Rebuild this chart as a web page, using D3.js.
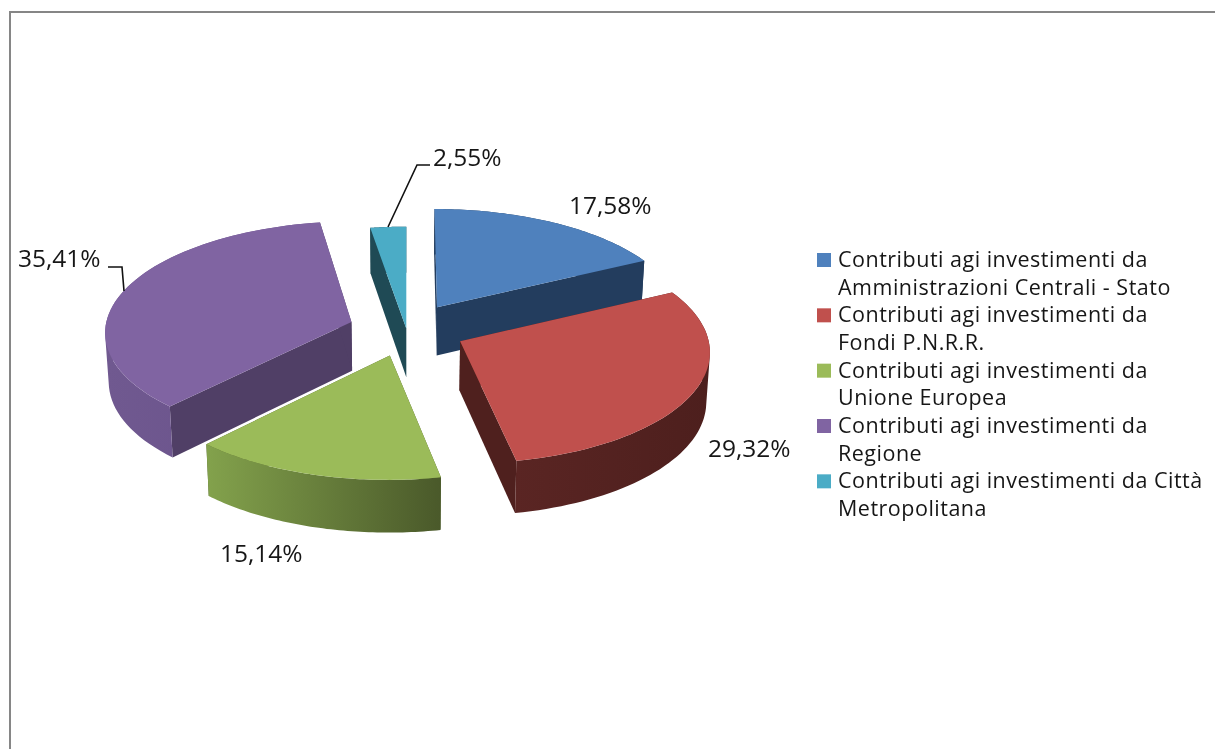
<!DOCTYPE html>
<html>
<head>
<meta charset="utf-8">
<script src="https://cdn.jsdelivr.net/npm/d3@7"></script>
<style>
html,body{margin:0;padding:0;background:#fff;overflow:hidden}
text{font-family:"Open Sans",sans-serif;fill:#161616}
.soft{filter:blur(0.4px)}
</style>
</head>
<body>
<svg id="chart" width="1215" height="749"></svg>
<script>
// Data
const categories = [
  ["Contributi agi investimenti da", "Amministrazioni Centrali - Stato"],
  ["Contributi agi investimenti da", "Fondi P.N.R.R."],
  ["Contributi agi investimenti da", "Unione Europea"],
  ["Contributi agi investimenti da", "Regione"],
  ["Contributi agi investimenti da Città", "Metropolitana"]
];
const shares = [17.58, 29.32, 15.14, 35.41, 2.55];
const explode = [0.24, 0.24, 0.24, 0.235, 0.01];
const topColors = ["#4F81BD", "#C0504D", "#9BBB59", "#8064A2", "#4BACC6"];
const wallColors = ["#233D5E", "#4F201E", "#4D5C2C", "#503F66", "#1F4A55"];
const rimStart = ["#233D5E", "#5A2523", "#83A24C", "#705990", "#1F4A55"];
const rimEnd = ["#233D5E", "#4D1F1D", "#4A592A", "#68508A", "#1F4A55"];
const drawOrder = [4, 0, 3, 1, 2];
const labelPos = [[569, 214], [708, 457], [220, 562], [18, 267], [433, 166]];
const leaders = {3: [[124, 291], [122, 267], [108, 267]], 4: [[388, 227], [417, 165], [430, 165]]};

// Projection of the tilted pie
const P = {cx: 406.5, cy: 329.5, rx: 246.5, ry: 111, k: 0.082};
const xScale = d3.scaleLinear().domain([0, 1]).range([P.cx, P.cx + P.rx]);
const yScale = d3.scaleLinear().domain([0, 1]).range([P.cy, P.cy + P.ry]);
function project(X, Y, low) {
  const w = 1 + P.k * Y;
  let x = xScale(X * w), y = yScale(Y * w);
  if (low) {
    x = P.cx + (x - P.cx) * 0.988;
    y += 49 + 3 * Y;
  }
  return [x, y];
}
const line = d3.line();
const svg = d3.select("#chart");
const fmt = d3.formatLocale({decimal: ",", thousands: ".", grouping: [3], currency: ["", "€"]}).format(".2f");

// Frame
svg.append("path").attr("d", line([[10, 749], [10, 12], [1215, 12]]))
  .attr("fill", "none").attr("stroke", "#868686").attr("stroke-width", 2);

// Slices
const arcs = d3.pie().sort(null).value(d => d)(shares);
const defs = svg.append("defs");
shares.forEach((s, i) => {
  const g = defs.append("linearGradient").attr("id", "rim" + i);
  g.append("stop").attr("offset", "0").attr("stop-color", rimStart[i]);
  g.append("stop").attr("offset", "1").attr("stop-color", rimEnd[i]);
});

drawOrder.forEach(i => {
  const a = arcs[i];
  const mid = (a.startAngle + a.endAngle) / 2;
  const ox = explode[i] * Math.sin(mid), oy = -explode[i] * Math.cos(mid);
  const angles = d3.range(0, 61).map(t => a.startAngle + (a.endAngle - a.startAngle) * t / 60);
  const rimPt = (ang, low) => project(ox + Math.sin(ang), oy - Math.cos(ang), low);
  const rimTop = angles.map(v => rimPt(v, false));
  const rimLow = angles.map(v => rimPt(v, true));
  const apexTop = project(ox, oy, false), apexLow = project(ox, oy, true);
  const g = svg.append("g").attr("class", "soft");
  // radial walls
  [[rimTop[0], rimLow[0]], [rimTop[60], rimLow[60]]].forEach(([t, l]) => {
    g.append("path").attr("d", line([apexTop, t, l, apexLow]) + "Z").attr("fill", wallColors[i]);
  });
  // outer rim wall: one same-winding quad per step, so the silhouette is the full sweep
  const rimPath = d3.range(0, 60).map(t => {
    const quad = [rimTop[t], rimTop[t + 1], rimLow[t + 1], rimLow[t]];
    if (d3.polygonArea(quad) < 0) quad.reverse();
    return line(quad) + "Z";
  }).join("");
  g.append("path").attr("d", rimPath).attr("fill", `url(#rim${i})`);
  // top face
  g.append("path").attr("d", line([apexTop].concat(rimTop)) + "Z").attr("fill", topColors[i]);
});

// Leader lines
Object.values(leaders).forEach(pts => {
  svg.append("path").attr("d", line(pts)).attr("fill", "none")
    .attr("stroke", "#111").attr("stroke-width", 1.6);
});

// Data labels
svg.selectAll("text.val").data(shares).join("text").attr("class", "val soft")
  .attr("x", (d, i) => labelPos[i][0]).attr("y", (d, i) => labelPos[i][1])
  .attr("font-size", 24.5).text(d => fmt(d) + "%");

// Legend
const legendRow = d3.scaleLinear().domain([0, 9]).range([267, 516]);
categories.forEach((lines, i) => {
  svg.append("rect").attr("x", 817).attr("y", legendRow(i * 2) - 14)
    .attr("width", 14).attr("height", 14).attr("fill", topColors[i]);
  lines.forEach((t, j) => {
    svg.append("text").attr("class", "soft").attr("x", 838).attr("y", legendRow(i * 2 + j))
      .attr("font-size", 21.5).attr("letter-spacing", 0.5).text(t);
  });
});
</script>
</body>
</html>
